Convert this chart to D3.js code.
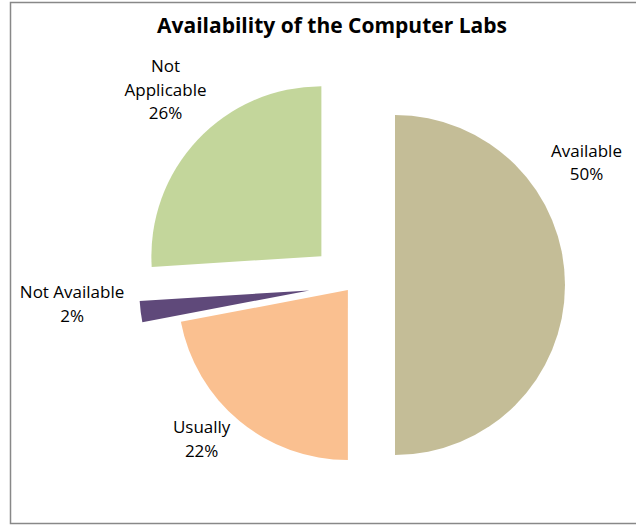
<!DOCTYPE html>
<html><head><meta charset="utf-8">
<script src="https://cdn.jsdelivr.net/npm/d3@7"></script>
<style>body{margin:0;background:#fff}svg{display:block}</style>
</head><body>
<svg id="c" width="636" height="526"></svg>
<script>
const categories = ["Available", "Usually", "Not Available", "Not Applicable"];
const values = [50, 22, 2, 26];
const colors = ["#c4bd97", "#fac090", "#5f497a", "#c3d69b"];
const title = "Availability of the Computer Labs";

const svg = d3.select("#c");
svg.append("rect").attr("x", 10.5).attr("y", 2.5).attr("width", 640).attr("height", 521)
  .attr("fill", "#fff").attr("stroke", "#888").attr("stroke-width", 1.5);

svg.append("text").attr("x", 332).attr("y", 33).attr("text-anchor", "middle")
  .attr("font-family", "'Open Sans', sans-serif").attr("font-weight", "bold").attr("font-size", 21)
  .attr("fill", "#000").text(title);

const cx = 352, cy = 285, r = 170;
const explode = [43, 6.5, 43, 42];
const labelAngle = [62.4, 224.3, 266.1, 316.35];
const labelDist = [264.6, 215.3, 280.6, 270.2];

const pie = d3.pie().sort(null).value(d => d)(values);
const arc = d3.arc().innerRadius(0).outerRadius(r);
const g = svg.append("g").attr("transform", `translate(${cx},${cy})`);
const lh = 23.5, capH = 12;

pie.forEach((p, i) => {
  const mid = (p.startAngle + p.endAngle) / 2;
  const dx = Math.sin(mid) * explode[i], dy = -Math.cos(mid) * explode[i];
  g.append("path").attr("d", arc(p)).attr("fill", colors[i])
    .attr("transform", `translate(${dx},${dy})`);
  const la = labelAngle[i] * Math.PI / 180;
  const lx = Math.sin(la) * labelDist[i], ly = -Math.cos(la) * labelDist[i];
  const pct = Math.round(values[i] / d3.sum(values) * 100) + "%";
  const lines = categories[i] === "Not Applicable" ? ["Not", "Applicable", pct] : [categories[i], pct];
  const n = lines.length;
  const t = g.append("text").attr("text-anchor", "middle")
    .attr("font-family", "'Open Sans', sans-serif").attr("font-size", 17).attr("fill", "#000");
  lines.forEach((s, k) => {
    t.append("tspan").attr("x", lx)
      .attr("y", ly + ((n - 1) * lh + capH) / 2 - (n - 1 - k) * lh).text(s);
  });
});
</script>
</body></html>
